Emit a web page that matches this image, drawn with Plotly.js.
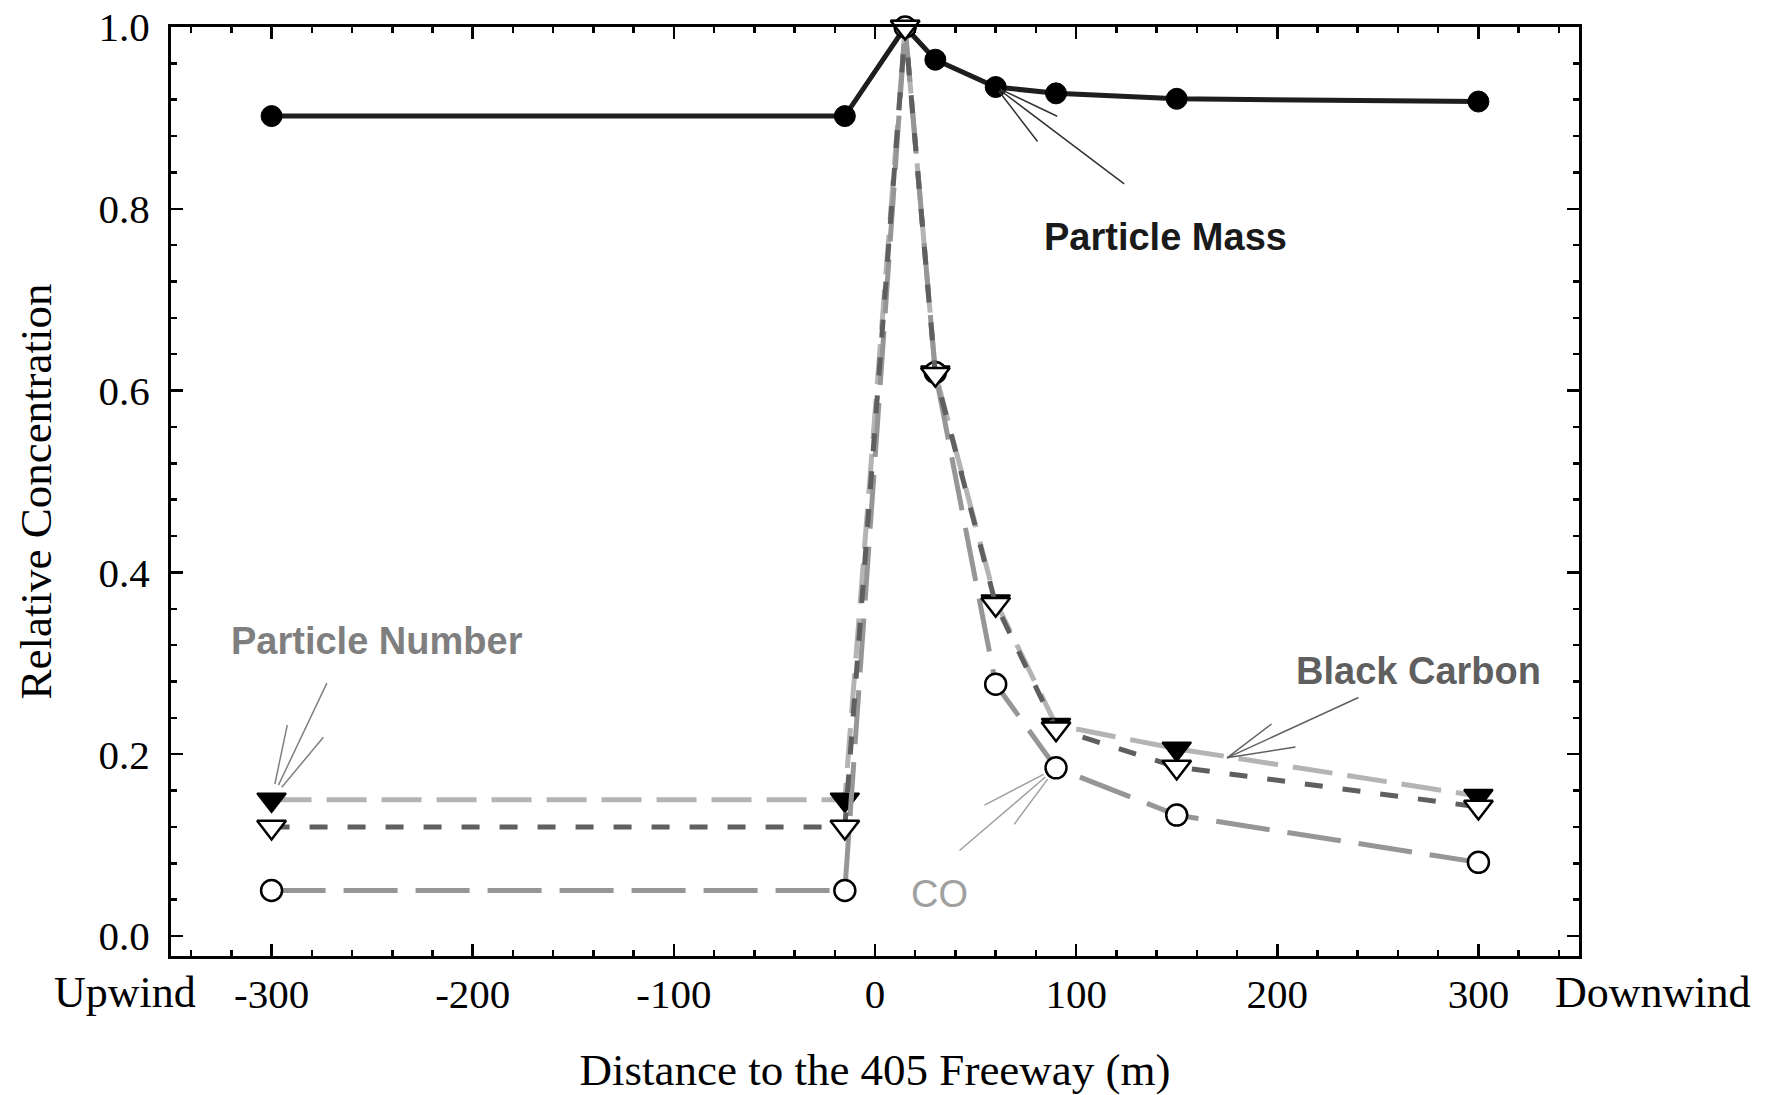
<!DOCTYPE html>
<html>
<head>
<meta charset="utf-8">
<script src="https://cdn.plot.ly/plotly-3.0.1.min.js"></script>
<style>html,body{margin:0;padding:0;background:#fff;}#chart{width:1768px;height:1095px;}</style>
</head>
<body>
<div id="chart"></div>
<script>
// ---- data ----
const distance = [-300, -15, 15, 30, 60, 90, 150, 300];
const particleMass   = [0.902, 0.902, 1.0, 0.964, 0.934, 0.927, 0.921, 0.918];
const particleNumber = [0.150, 0.150, 1.0, 0.620, 0.368, 0.232, 0.206, 0.154];
const coConc         = [0.050, 0.050, 1.0, 0.620, 0.277, 0.185, 0.133, 0.081];
const blackCarbon    = [0.120, 0.120, 1.0, 0.618, 0.365, 0.228, 0.186, 0.142];
const xTickVals = [-300, -200, -100, 0, 100, 200, 300];
const xTickText = ['-300', '-200', '-100', '0', '100', '200', '300'];
const yTickVals = [0, 0.2, 0.4, 0.6, 0.8, 1.0];
const yTickText = ['0.0', '0.2', '0.4', '0.6', '0.8', '1.0'];

const serif = 'Liberation Serif, Times New Roman, serif';
const sans = 'Liberation Sans, Arial, sans-serif';

const traces = [
  {name: 'Particle Mass', x: distance, y: particleMass, mode: 'lines+markers', cliponaxis: false,
   line: {color: '#1e1e1e', width: 5},
   marker: {symbol: 'circle', size: 21, color: '#000', line: {color: '#000', width: 1}}},
  {name: 'Particle Number', x: distance, y: particleNumber, mode: 'lines+markers', cliponaxis: false,
   line: {color: '#b4b4b4', width: 5, dash: '40px,15px'},
   marker: {symbol: 'triangle-down', size: 25, color: '#000', line: {color: '#000', width: 2}}},
  {name: 'CO', x: distance, y: coConc, mode: 'lines+markers', cliponaxis: false,
   line: {color: '#969696', width: 5, dash: '54px,18px'},
   marker: {symbol: 'circle', size: 21, color: '#fff', line: {color: '#000', width: 2.5}}},
  {name: 'Black Carbon', x: distance, y: blackCarbon, mode: 'lines+markers', cliponaxis: false,
   line: {color: '#5f5f5f', width: 5, dash: '18px,20px'},
   marker: {symbol: 'triangle-down', size: 25, color: '#fff', line: {color: '#000', width: 2.5}}}
];

// label fans: thin lines from the label toward a curve
function fan(x, y, color, offsets, standoff) {
  return offsets.map(o => ({
    x: x, y: y, xref: 'x', yref: 'y', text: '', showarrow: true,
    arrowhead: 0, arrowwidth: 1.5, arrowcolor: color,
    ax: o[0], ay: o[1], standoff: standoff
  }));
}

const annotations = [
  {x: 144.5, y: 0.769, xref: 'x', yref: 'y', text: '<b>Particle Mass</b>', showarrow: false,
   font: {family: sans, size: 38, color: '#1a1a1a'}},
  {x: -247.6, y: 0.325, xref: 'x', yref: 'y', text: '<b>Particle Number</b>', showarrow: false,
   font: {family: sans, size: 38, color: '#7f7f7f'}},
  {x: 270, y: 0.292, xref: 'x', yref: 'y', text: '<b>Black Carbon</b>', showarrow: false,
   font: {family: sans, size: 38, color: '#5f5f5f'}},
  {x: 32, y: 0.046, xref: 'x', yref: 'y', text: 'CO', showarrow: false,
   font: {family: sans, size: 38, color: '#a0a0a0'}},
  {x: 0, y: 0, xref: 'paper', yref: 'paper', xanchor: 'center', yanchor: 'middle',
   text: 'Upwind', showarrow: false, xshift: -46, yshift: -36,
   font: {family: serif, size: 44, color: '#000'}},
  {x: 1, y: 0, xref: 'paper', yref: 'paper', xanchor: 'center', yanchor: 'middle',
   text: 'Downwind', showarrow: false, xshift: 74, yshift: -36,
   font: {family: serif, size: 44, color: '#000'}}
]
  .concat(fan(distance[4], particleMass[4], '#333333', [[130, 98], [63, 30], [43, 56]], 5))
  .concat(fan(distance[0], particleNumber[0], '#808080', [[56, -118], [53, -64], [16, -76]], 16))
  .concat(fan(175, 0.196, '#606060', [[133, -61], [46, -35], [70, -11]], 0))
  .concat(fan(distance[5], coConc[5], '#a0a0a0', [[-98, 84], [-73, 38], [-43, 58]], 14));

const axisCommon = {
  showline: true, linecolor: '#000', linewidth: 3, mirror: 'allticks',
  ticks: 'inside', ticklen: 12, tickwidth: 2.5, tickcolor: '#000',
  showgrid: false, zeroline: false, fixedrange: true,
  tickfont: {family: serif, size: 41, color: '#000'}
};

const layout = {
  width: 1768, height: 1095,
  margin: {l: 171, r: 189, t: 27, b: 139, pad: 0},
  paper_bgcolor: '#fff', plot_bgcolor: '#fff',
  showlegend: false,
  xaxis: Object.assign({}, axisCommon, {
    range: [-350, 350], tickvals: xTickVals, ticktext: xTickText,
    ticklabelstandoff: 0,
    minor: {dtick: 20, ticks: 'inside', ticklen: 6, tickwidth: 2.5, tickcolor: '#000'},
    title: {text: 'Distance to the 405 Freeway (m)', standoff: 40,
            font: {family: serif, size: 45, color: '#000'}}
  }),
  yaxis: Object.assign({}, axisCommon, {
    range: [-0.022, 1.0], tickvals: yTickVals, ticktext: yTickText,
    ticklabelstandoff: 10,
    minor: {dtick: 0.04, tick0: 0, ticks: 'inside', ticklen: 6, tickwidth: 2.5, tickcolor: '#000'},
    title: {text: 'Relative Concentration', standoff: 33,
            font: {family: serif, size: 45, color: '#000'}}
  }),
  annotations: annotations
};

Plotly.newPlot('chart', traces, layout, {displayModeBar: false, staticPlot: true});
</script>
</body>
</html>
